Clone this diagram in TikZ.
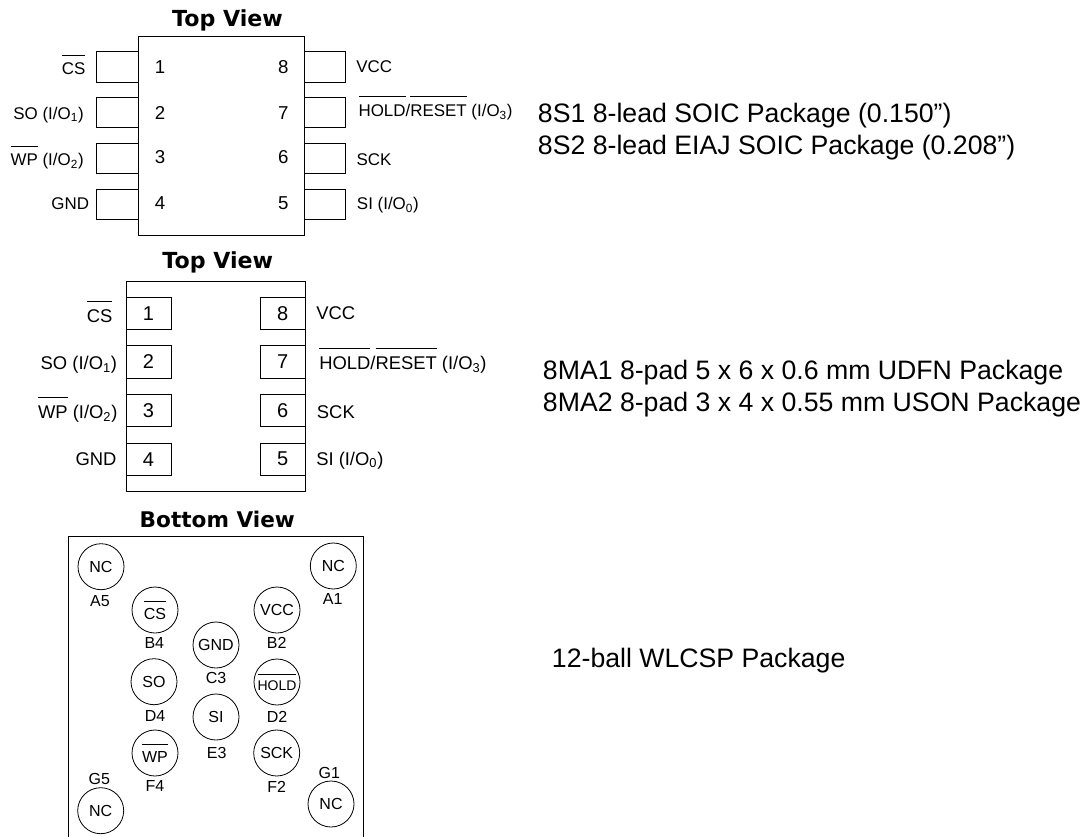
\documentclass[tikz,border=0pt]{standalone}
\usepackage{fontspec}
\setmainfont{Liberation Sans}
\newfontfamily\titlefont{DejaVu Sans}
\newcommand{\ovl}[1]{$\overline{\mbox{\rule{0pt}{1.05em}#1}}$}
\newcommand{\ioname}[1]{(I/O\textsubscript{#1})}
\tikzset{
	viewtitle/.style={font=\titlefont\fontsize{16.6}{18}\selectfont\bfseries,anchor=base,inner sep=0},
	pinname/.style={font=\fontsize{12.7}{14}\selectfont,inner sep=0},
	leftname/.style={pinname,anchor=base east},
	rightname/.style={pinname,anchor=base west},
	pinnum/.style={font=\fontsize{14}{16}\selectfont,anchor=base,inner sep=0},
	pkgtext/.style={font=\fontsize{20}{24}\selectfont,anchor=base west,inner sep=0},
	padbox/.style={draw,line width=0.6pt,minimum width=33.75pt,minimum height=24.4pt,inner sep=0,font=\fontsize{15}{17}\selectfont},
	ball/.style={draw,circle,line width=0.6pt,minimum size=34.5pt,inner sep=0,font=\fontsize{12}{14}\selectfont},
	ballname/.style={font=\fontsize{12}{14}\selectfont,inner sep=0},
}
\begin{document}
\begin{tikzpicture}[x=0.75pt,y=-0.75pt]
	\useasboundingbox (0,0) rectangle (1084,837);
	% SOIC
	\node[viewtitle] (title1) at (227.5,26.7) {Top View};
	\foreach \ypin in {51.7,97.3,143.3,189} {
		\draw[line width=0.6pt] (138.3,\ypin) -- (96.7,\ypin) -- (96.7,\ypin+30.6) -- (138.3,\ypin+30.6);
		\draw[line width=0.6pt] (304.3,\ypin) -- (345.7,\ypin) -- (345.7,\ypin+30.6) -- (304.3,\ypin+30.6);
	}
	\draw[line width=0.6pt] (138.3,36.3) rectangle (304.3,235);
	\foreach \num/\xnum/\ynum in {1/160/73.3,2/160/119.3,3/160/164,4/160/210,8/283.3/73.3,7/283.3/119.3,6/283.3/164,5/283.3/210}
		\node[pinnum] (s\num) at (\xnum,\ynum) {\num};
	\node[leftname] (scs) at (85.7,75) {\ovl{CS}};
	\node[leftname] (sso) at (84,119.3) {SO \ioname{1}};
	\node[leftname] (swp) at (84,165.7) {\ovl{WP} \ioname{2}};
	\node[leftname] (sgnd) at (89.3,210) {GND};
	\node[rightname] (svcc) at (356,73) {VCC};
	\node[rightname] (shold) at (358.3,116.3) {\ovl{HOLD}/\ovl{RESET} \ioname{3}};
	\node[rightname] (ssck) at (356.3,166) {SCK};
	\node[rightname] (ssi) at (356.7,210) {SI \ioname{0}};
	\node[pkgtext] (pkg1) at (537.7,122.7) {8S1 8-lead SOIC Package (0.150”)};
	\node[pkgtext] (pkg2) at (537.7,154.3) {8S2 8-lead EIAJ SOIC Package (0.208”)};
	% UDFN
	\node[viewtitle] (title2) at (217.8,268.3) {Top View};
	\draw[line width=0.6pt] (126,281) rectangle (305.3,491.7);
	\foreach \num/\ypad in {1/313.5,2/362,3/410.6,4/459.2}
		\node[padbox] (u\num) at (148.5,\ypad) {\num};
	\foreach \num/\ypad in {8/313.5,7/362,6/410.6,5/459.2}
		\node[padbox] (u\num) at (282.8,\ypad) {\num};
	\begin{scope}[pinname/.append style={font=\fontsize{13.8}{16}\selectfont}]
		\node[leftname] (ucs) at (112.7,322.3) {\ovl{CS}};
		\node[leftname] (uso) at (117.3,370) {SO \ioname{1}};
		\node[leftname] (uwp) at (117.7,418.3) {\ovl{WP} \ioname{2}};
		\node[leftname] (ugnd) at (116.7,465) {GND};
		\node[rightname] (uvcc) at (316,320) {VCC};
		\node[rightname] (uhold) at (319,369.3) {\ovl{HOLD}/\ovl{RESET} \ioname{3}};
		\node[rightname] (usck) at (316.7,418.3) {SCK};
		\node[rightname] (usi) at (316,465) {SI \ioname{0}};
	\end{scope}
	\node[pkgtext] (pkg3) at (542.7,380) {8MA1 8-pad 5 x 6 x 0.6 mm UDFN Package};
	\node[pkgtext] (pkg4) at (542.7,411.7) {8MA2 8-pad 3 x 4 x 0.55 mm USON Package};
	% WLCSP
	\node[viewtitle,font=\titlefont\fontsize{16.2}{18}\selectfont\bfseries] (title3) at (217.3,527) {Bottom View};
	\draw[line width=0.6pt] (68.7,837) -- (68.7,536.7) -- (363,536.7) -- (363,837);
	\foreach \ballid/\xball/\yball/\signal in {a5/101/566.7/NC,a1/333.3/566/NC,b4/155/610/\ovl{CS},b2/277/610/VCC,c3/216/645/GND,d4/154/681.7/SO,e3/216/717/SI,f4/155/753/\ovl{WP},f2/276.7/753/SCK,g5/100.7/810.7/NC,g1/331/804/NC}
		\node[ball] (\ballid) at (\xball,\yball) {\signal};
	\node[ball,font=\fontsize{10.5}{12}\selectfont] (d2) at (277,682) {\ovl{HOLD}};
	\foreach \nameid/\xname/\yname/\txt in {a5/100/600.7/A5,a1/332.7/599/A1,b4/154.3/642.7/B4,b2/276.7/643/B2,c3/216/678/C3,d4/155/716/D4,d2/277/716.7/D2,e3/216.7/752.7/E3,f4/155/786/F4,f2/276.7/786.7/F2,g5/99.3/779/G5,g1/329.3/773/G1}
		\node[ballname] (n\nameid) at (\xname,\yname) {\txt};
	\node[pkgtext] (pkg5) at (551.7,667.3) {12-ball WLCSP Package};
\end{tikzpicture}
\end{document}
